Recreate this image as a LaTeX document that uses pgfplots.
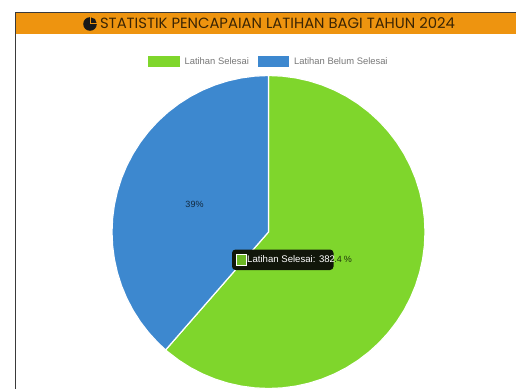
\documentclass[border=0pt]{standalone}
\usepackage{fontspec}
\setmainfont{Liberation Sans}
\newfontfamily\titlefont{Poppins}
\usepackage{pgfplots}
\usepgfplotslibrary{polar}
\pgfplotsset{compat=1.18}
\definecolor{doneGreen}{HTML}{7FD62C}
\definecolor{openBlue}{HTML}{3D88CF}
\definecolor{bannerOrange}{HTML}{EE940F}
\definecolor{frameGrey}{HTML}{3A3A3A}
\definecolor{legendGrey}{HTML}{777777}
\definecolor{tipBlack}{HTML}{11160A}
\begin{document}
\begin{tikzpicture}
\begin{axis}[
  scale only axis, width=516pt, height=389pt,
  xmin=-268.5, xmax=247.5, ymin=-157, ymax=232,
  hide axis, clip=true,
  legend columns=2,
  legend cell align=left,
  legend style={
    at={(rel axis cs:0.5213,0.842)}, anchor=center,
    draw=none, fill=none, inner sep=0pt, outer sep=0pt,
    font=\fontsize{9.4}{11}\selectfont\color{legendGrey},
    /tikz/every odd column/.style={column sep=3pt},
    /tikz/every even column/.style={column sep=7pt},
  },
]
% Slices: 382 done and 240 open out of 622, outlines in polar form (angle, radius)
\addplot[fill=doneGreen, draw=white, line width=1.2pt, data cs=polar,
  legend image code/.code={\fill[doneGreen] (0pt,-4.5pt) rectangle (30pt,4.5pt);}]
  table[row sep=\\] {
  a r\\
  90 0\\ 90 156.5\\ 85 156.5\\ 80 156.5\\ 75 156.5\\ 70 156.5\\ 65 156.5\\ 60 156.5\\ 55 156.5\\ 50 156.5\\
  45 156.5\\ 40 156.5\\ 35 156.5\\ 30 156.5\\ 25 156.5\\ 20 156.5\\ 15 156.5\\ 10 156.5\\ 5 156.5\\ 0 156.5\\
  -5 156.5\\ -10 156.5\\ -15 156.5\\ -20 156.5\\ -25 156.5\\ -30 156.5\\ -35 156.5\\ -40 156.5\\ -45 156.5\\ -50 156.5\\
  -55 156.5\\ -60 156.5\\ -65 156.5\\ -70 156.5\\ -75 156.5\\ -80 156.5\\ -85 156.5\\ -90 156.5\\ -95 156.5\\ -100 156.5\\
  -105 156.5\\ -110 156.5\\ -115 156.5\\ -120 156.5\\ -125 156.5\\ -130 156.5\\ -131.1 156.5\\ -131.1 0\\
  } \closedcycle;
\addlegendentry{Latihan Selesai}
\addplot[fill=openBlue, draw=white, line width=1.2pt, data cs=polar,
  legend image code/.code={\fill[openBlue] (0pt,-4.5pt) rectangle (30pt,4.5pt);}]
  table[row sep=\\] {
  a r\\
  90 0\\ 90 156.5\\ 95 156.5\\ 100 156.5\\ 105 156.5\\ 110 156.5\\ 115 156.5\\ 120 156.5\\ 125 156.5\\ 130 156.5\\
  135 156.5\\ 140 156.5\\ 145 156.5\\ 150 156.5\\ 155 156.5\\ 160 156.5\\ 165 156.5\\ 170 156.5\\ 175 156.5\\ 180 156.5\\
  185 156.5\\ 190 156.5\\ 195 156.5\\ 200 156.5\\ 205 156.5\\ 210 156.5\\ 215 156.5\\ 220 156.5\\ 225 156.5\\ 228.9 156.5\\ 228.9 0\\
  } \closedcycle;
\addlegendentry{Latihan Belum Selesai}

% Canvas extent
\path (axis cs:-268.5,-157) rectangle (axis cs:247.5,232);

% Page frame and heading band
\fill[bannerOrange] (axis cs:-253,219.5) rectangle (axis cs:247.5,197.5);
\draw[frameGrey, line width=1pt] (axis cs:247.5,219.5) -- (axis cs:-253,219.5) -- (axis cs:-253,-157);
\node[anchor=center, text=black!75!bannerOrange] at (axis cs:9,208.5)
  {\titlefont\fontsize{14.8}{16}\selectfont STATISTIK PENCAPAIAN LATIHAN BAGI TAHUN 2024};
% Pie icon in the heading
\fill[black!90] (axis cs:-178.5,208) circle[radius=6.8pt];
\fill[bannerOrange] (axis cs:-178.5,208) -- ++(8pt,0pt) -- ++(0pt,8pt) -- ++(-8pt,0pt) -- cycle;
\fill[black!90] (axis cs:-177.5,209) -- ++(5.6pt,0pt) arc[start angle=0, end angle=90, radius=5.6pt] -- cycle;

% Slice percentages; the green one runs under the tooltip
\node[text=black!70!openBlue, font=\fontsize{9}{11}\selectfont] at (axis cs:-74,28) {39\%};
\node[text=black!75!doneGreen, font=\fontsize{9}{11}\selectfont, anchor=east, inner sep=0pt] at (axis cs:83.5,-27) {61.4\hspace{2pt}\%};

% Tooltip over the green slice
\fill[tipBlack, rounded corners=3.5pt] (axis cs:-36.5,-17.5) rectangle (axis cs:65,-38);
\fill[white] (axis cs:-33,-22) rectangle (axis cs:-22,-34);
\fill[doneGreen!85!black] (axis cs:-32,-23) rectangle (axis cs:-23,-33);
\node[text=white, anchor=west, inner sep=0pt, font=\fontsize{9.6}{11}\selectfont] at (axis cs:-21.5,-27.5) {Latihan Selesai: 382};
\end{axis}
\end{tikzpicture}
\end{document}
